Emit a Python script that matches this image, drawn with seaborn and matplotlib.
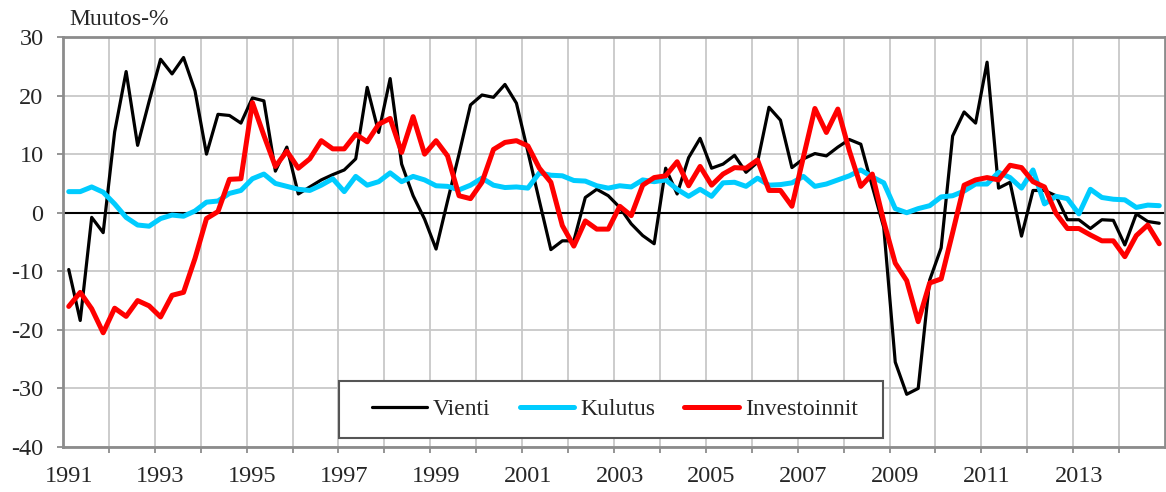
import numpy as np
import pandas as pd
import matplotlib
matplotlib.use("Agg")
import matplotlib.pyplot as plt
from matplotlib.ticker import FixedLocator
from matplotlib.patches import Rectangle
import seaborn as sns

# Quarterly data 1991Q1 .. 2014Q4 (change %, year-on-year)
vienti = [-9.7, -18.4, -0.8, -3.4, 13.8, 24.1, 11.5, 19.0,
          26.2, 23.7, 26.5, 20.8, 10.0, 16.8, 16.6, 15.3,
          19.6, 19.1, 7.1, 11.2, 3.2, 4.4, 5.6, 6.5,
          7.3, 9.2, 21.4, 13.7, 22.9, 8.3, 2.9, -1.1,
          -6.2, 2.0, 10.0, 18.4, 20.1, 19.7, 21.9, 18.7,
          10.4, 2.0, -6.3, -4.8, -4.8, 2.6, 4.0, 2.9,
          0.9, -1.9, -3.9, -5.3, 7.6, 3.2, 9.4, 12.7,
          7.6, 8.3, 9.8, 6.9, 8.6, 18.0, 15.8, 7.7,
          9.2, 10.1, 9.7, 11.2, 12.5, 11.7, 4.5, -2.5,
          -25.5, -31.0, -30.0, -11.5, -6.0, 13.1, 17.2, 15.3,
          25.7, 4.2, 5.2, -4.0, 3.8, 3.8, 2.9, -1.2,
          -1.2, -2.7, -1.2, -1.3, -5.5, -0.2, -1.5, -1.8]

kulutus = [3.6, 3.6, 4.4, 3.5, 1.5, -0.8, -2.1, -2.3,
           -1.0, -0.4, -0.6, 0.3, 1.8, 2.0, 3.3, 3.8,
           5.8, 6.6, 5.0, 4.5, 4.0, 3.8, 4.7, 5.8,
           3.6, 6.2, 4.7, 5.3, 6.8, 5.3, 6.2, 5.6,
           4.6, 4.5, 3.9, 4.7, 5.9, 4.7, 4.3, 4.4,
           4.2, 6.8, 6.4, 6.3, 5.5, 5.4, 4.6, 4.2,
           4.6, 4.4, 5.6, 5.3, 5.6, 4.0, 2.8, 4.0,
           2.8, 5.1, 5.2, 4.5, 5.9, 4.7, 4.8, 5.1,
           6.2, 4.5, 4.9, 5.6, 6.3, 7.3, 6.1, 5.1,
           0.7, 0.0, 0.7, 1.2, 2.7, 2.9, 3.7, 4.9,
           4.9, 6.9, 6.0, 4.2, 7.3, 1.5, 2.8, 2.4,
           -0.2, 4.0, 2.6, 2.3, 2.2, 0.9, 1.3, 1.2]

investoinnit = [-16.0, -13.6, -16.4, -20.5, -16.3, -17.7, -15.0, -15.9,
                -17.8, -14.1, -13.6, -7.8, -1.0, 0.2, 5.7, 5.8,
                18.8, 13.2, 7.9, 10.5, 7.6, 9.2, 12.3, 10.9,
                10.9, 13.4, 12.1, 15.1, 16.1, 10.3, 16.4, 10.0,
                12.3, 9.7, 2.9, 2.4, 5.2, 10.8, 12.0, 12.3,
                11.4, 7.6, 5.2, -2.2, -5.7, -1.4, -2.8, -2.8,
                1.1, -0.5, 4.7, 6.0, 6.3, 8.7, 4.6, 7.9,
                4.7, 6.6, 7.7, 7.6, 9.0, 3.8, 3.8, 1.1,
                9.5, 17.8, 13.7, 17.7, 10.6, 4.5, 6.6, -1.5,
                -8.6, -11.6, -18.6, -12.0, -11.3, -3.4, 4.7, 5.6,
                6.0, 5.6, 8.1, 7.7, 5.3, 4.4, -0.1, -2.7,
                -2.7, -3.8, -4.8, -4.8, -7.5, -3.9, -2.1, -5.3]

years = list(range(1991, 2015))
quarters = [f"{y}Q{q}" for y in years for q in range(1, 5)]
tick_labels = [str(y) for y in range(1991, 2014, 2)]
series_names = ["Vienti", "Kulutus", "Investoinnit"]
y_ticks = [-40, -30, -20, -10, 0, 10, 20, 30]

df = pd.DataFrame({"quarter": quarters, "Vienti": vienti,
                   "Kulutus": kulutus, "Investoinnit": investoinnit})
df["idx"] = np.arange(len(df))

sns.set_style("white")
plt.rcParams["font.family"] = ["Liberation Serif", "DejaVu Serif"]
plt.rcParams["axes.unicode_minus"] = False

W, H = 1166, 492
fig = plt.figure(figsize=(W / 100, H / 100), dpi=100)
ax = fig.add_axes([63 / W, 1 - 447 / H, 1102 / W, 410 / H])

colors = {"Vienti": "#000000", "Kulutus": "#00CCFF", "Investoinnit": "#FF0000"}
widths = {"Vienti": 2.3, "Kulutus": 3.6, "Investoinnit": 3.6}

ax.axhline(0, color="black", linewidth=1.5, zorder=2)
for i, name in enumerate(series_names):
    sns.lineplot(data=df, x="idx", y=name, color=colors[name],
                 linewidth=widths[name], label=name, ax=ax, zorder=3 + i)

ax.set_xlim(-0.5, len(df) - 0.5)
ax.set_ylim(-40, 30)
ax.set_yticks(y_ticks)
ax.set_yticklabels([str(v) for v in y_ticks])
ax.set_xticks(np.arange(0, len(df), 8)[:len(tick_labels)])
ax.set_xticklabels(tick_labels)
ax.xaxis.set_minor_locator(FixedLocator(np.arange(3.5, len(df) - 1, 4)))
ax.set_xlabel("")
ax.set_ylabel("")

ax.grid(False)
ax.grid(which="minor", axis="x", color="#C8C8C8", linewidth=1.3, zorder=0)
ax.grid(which="major", axis="y", color="#C8C8C8", linewidth=1.3, zorder=0)
ax.set_axisbelow(True)

for s in ax.spines.values():
    s.set_color("#8C8C8C")
    s.set_linewidth(2)

ax.tick_params(axis="y", which="major", length=4, width=1.3, color="#8C8C8C",
               direction="out", labelsize=17.5, pad=10, left=True)
ax.tick_params(axis="x", which="major", length=0, labelsize=17.5, pad=14)
ax.tick_params(axis="x", which="minor", length=4, width=1.3, color="#8C8C8C",
               direction="out", bottom=True)

fig.text(69 / W, 1 - 25 / H, "Muutos-%", fontsize=17, ha="left",
         va="baseline")

# legend box
box_x0, box_x1, box_y0, box_y1 = 339, 883, 381, 438
rect = Rectangle(((box_x0 - 63) / 1102, (447 - box_y1) / 410),
                 (box_x1 - box_x0) / 1102, (box_y1 - box_y0) / 410,
                 transform=ax.transAxes, facecolor="white",
                 edgecolor="#555555", linewidth=1.5, zorder=10)
ax.add_patch(rect)

leg = ax.legend(loc="center", ncol=3,
                bbox_to_anchor=((615 - 63) / 1102, (447 - 409.5) / 410),
                fontsize=17, frameon=False, handlelength=2.3,
                handletextpad=0.25, columnspacing=1.25, borderaxespad=0,
                borderpad=0)
leg.set_zorder(11)

fig.savefig("out.png", dpi=100)
